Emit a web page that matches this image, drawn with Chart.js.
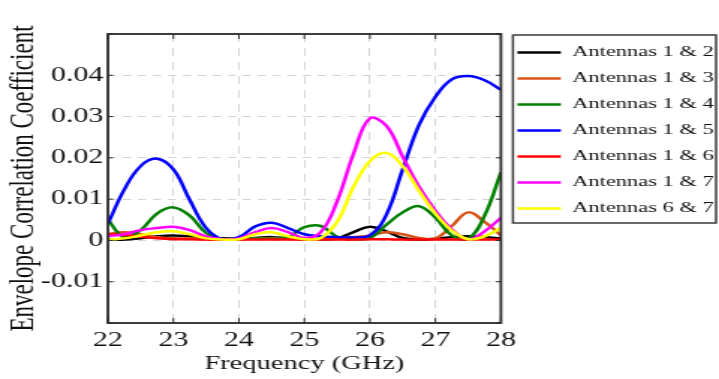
<!DOCTYPE html>
<html>
<head>
<meta charset="utf-8">
<title>Envelope Correlation Coefficient</title>
<script src="https://cdn.jsdelivr.net/npm/chart.js@4.4.1/dist/chart.umd.min.js"></script>
<style>
  html, body { margin: 0; padding: 0; background: #fff; overflow: hidden; }
  /* the original figure is stretched sideways, so the chart is drawn narrow and scaled */
  #wrap { position: relative; width: 480px; height: 379px; transform: scaleX(1.498); transform-origin: 0 0; }
</style>
</head>
<body>
<div id="wrap"><canvas id="eccChart"></canvas></div>
<script>
const freqGHz = [22, 22.25, 22.5, 22.75, 23, 23.25, 23.5, 23.75, 24, 24.25, 24.5, 24.75, 25,
  25.25, 25.5, 25.75, 26, 26.25, 26.5, 26.75, 27, 27.25, 27.5, 27.75, 28];

const xTickValues = [22, 23, 24, 25, 26, 27, 28];
const xTickLabels = ['22', '23', '24', '25', '26', '27', '28'];
const yTickValues = [-0.01, 0, 0.01, 0.02, 0.03, 0.04];
const yTickLabels = ['-0.01', '0', '0.01', '0.02', '0.03', '0.04'];

const seriesNames = ['Antennas 1 & 2', 'Antennas 1 & 3', 'Antennas 1 & 4', 'Antennas 1 & 5',
  'Antennas 1 & 6', 'Antennas 1 & 7', 'Antennas 6 & 7'];

const ant12 = [0.0003, 0.0002, 0.0005, 0.001, 0.0012, 0.001, 0.0008, 0.0005, 0.0004, 0.0006, 0.0008, 0.0005, 0.0003,
  0.0003, 0.0005, 0.002, 0.0033, 0.0022, 0.0006, 0.0002, 0.0004, 0.0008, 0.001, 0.0008, 0.0005];
const ant13 = [0.0015, 0.002, 0.0015, 0.0008, 0.0005, 0.0005, 0.0003, 0.0003, 0.0003, 0.0005, 0.0005, 0.0004, 0.0003,
  0.0004, 0.0005, 0.0008, 0.0012, 0.002, 0.0015, 0.0006, 0.0005, 0.0035, 0.0068, 0.0045, 0.0012];
const ant14 = [0.005, 0.0008, 0.0025, 0.0065, 0.008, 0.006, 0.0018, 0.0003, 0.0003, 0.0005, 0.0004, 0.0008, 0.0032,
  0.0035, 0.0009, 0.0003, 0.0006, 0.0038, 0.0068, 0.0083, 0.0055, 0.0012, 0.0004, 0.006, 0.0165];
const ant15 = [0.004, 0.0123, 0.018, 0.0198, 0.0172, 0.0098, 0.003, 0.0003, 0.0008, 0.0034, 0.0043, 0.003, 0.0015,
  0.001, 0.0008, 0.0007, 0.0012, 0.0062, 0.0172, 0.028, 0.0348, 0.039, 0.0398, 0.0388, 0.0365];
const ant16 = [0.0015, 0.0013, 0.0009, 0.0005, 0.0003, 0.0003, 0.0002, 0.0002, 0.0002, 0.0002, 0.0002, 0.0002, 0.0002,
  0.0002, 0.0002, 0.0002, 0.0003, 0.0003, 0.0002, 0.0002, 0.0002, 0.0002, 0.0002, 0.0002, 0.0002];
const ant17 = [0.001, 0.0015, 0.0025, 0.003, 0.0033, 0.0025, 0.001, 0.0003, 0.0005, 0.002, 0.003, 0.002, 0.0006,
  0.002, 0.0095, 0.021, 0.0296, 0.0278, 0.0203, 0.013, 0.0072, 0.0027, 0.0003, 0.0022, 0.0055];
const ant67 = [0.0002, 0.0005, 0.0012, 0.002, 0.0022, 0.0015, 0.0005, 0.0002, 0.0003, 0.0015, 0.002, 0.001, 0.0003,
  0.0006, 0.0045, 0.013, 0.0192, 0.0212, 0.018, 0.012, 0.0065, 0.0024, 0.0003, 0.001, 0.003];

const seriesValues = [ant12, ant13, ant14, ant15, ant16, ant17, ant67];
const seriesColors = ['#000000', '#D95319', '#008000', '#0000FF', '#FF0000', '#FF00FF', '#FFFF00'];

const serif = "'Liberation Serif', 'Times New Roman', serif";
const textColor = '#111111';

// box around the axes with inward ticks, and the frame round the legend
const axisFrame = {
  id: 'axisFrame',
  afterDraw(chart) {
    const { ctx, chartArea: a, scales: { x, y } } = chart;
    ctx.save();
    ctx.strokeStyle = '#2a2a2a';
    ctx.lineWidth = 1;
    ctx.beginPath();
    x.ticks.forEach((t) => {
      const px = x.getPixelForValue(t.value);
      ctx.moveTo(px, a.bottom); ctx.lineTo(px, a.bottom - 5);
      ctx.moveTo(px, a.top); ctx.lineTo(px, a.top + 5);
    });
    y.ticks.forEach((t) => {
      const py = y.getPixelForValue(t.value);
      ctx.moveTo(a.left, py); ctx.lineTo(a.left + 3.5, py);
      ctx.moveTo(a.right, py); ctx.lineTo(a.right - 3.5, py);
    });
    ctx.stroke();
    ctx.lineWidth = 1.8;
    ctx.strokeRect(a.left, a.top, a.right - a.left, a.bottom - a.top);

    const hb = chart.legend && chart.legend.legendHitBoxes;
    if (hb && hb.length) {
      const first = hb[0];
      const last = hb[hb.length - 1];
      const left = first.left - 3;
      const top = first.top - 10;
      ctx.strokeStyle = '#3a3a3a';
      ctx.lineWidth = 1.5;
      ctx.strokeRect(left, top, chart.width - 2 - left, last.top + last.height + 7 - top);
    }
    ctx.restore();
  },
};

const datasets = seriesValues.map((vals, i) => ({
  label: seriesNames[i],
  data: vals.map((v, j) => ({ x: freqGHz[j], y: v })),
  borderColor: seriesColors[i],
  backgroundColor: seriesColors[i],
  pointBorderColor: seriesColors[i],
  pointBackgroundColor: seriesColors[i],
  borderWidth: 2.5,
  pointBorderWidth: 2.5,
  pointRadius: 0,
  pointStyle: 'line',
  tension: 0.4,
  order: seriesValues.length - i,
}));

new Chart(document.getElementById('eccChart'), {
  type: 'line',
  data: { datasets },
  options: {
    responsive: true,
    maintainAspectRatio: false,
    animation: false,
    devicePixelRatio: 1,
    layout: { padding: { top: 34, right: 0, bottom: 0, left: 0 } },
    plugins: {
      tooltip: { enabled: false },
      legend: {
        position: 'right',
        align: 'start',
        reverse: true,
        maxWidth: 145.6,
        labels: {
          usePointStyle: true,
          pointStyleWidth: 29,
          padding: 11,
          color: textColor,
          font: { family: serif, size: 15 },
        },
      },
    },
    scales: {
      x: {
        type: 'linear',
        min: 22,
        max: 28,
        afterFit: (scale) => { scale.height = 56; },
        ticks: {
          stepSize: 1,
          padding: 6,
          color: textColor,
          font: { family: serif, size: 20 },
          callback: (value) => {
            const k = xTickValues.findIndex((v) => Math.abs(v - value) < 1e-9);
            return k >= 0 ? xTickLabels[k] : '';
          },
        },
        grid: { color: '#d4d4d4', lineWidth: 1, drawTicks: false },
        border: { display: false, dash: [8, 6] },
        title: {
          display: true,
          text: 'Frequency (GHz)',
          color: textColor,
          font: { family: serif, size: 19 },
          padding: { top: 0, bottom: 4 },
        },
      },
      y: {
        min: -0.02,
        max: 0.05,
        afterFit: (scale) => { scale.width = 72; },
        ticks: {
          stepSize: 0.01,
          padding: 3,
          color: textColor,
          font: { family: serif, size: 20 },
          callback: (value) => {
            const k = yTickValues.findIndex((v) => Math.abs(v - value) < 1e-9);
            return k >= 0 ? yTickLabels[k] : '';
          },
        },
        grid: { color: '#d4d4d4', lineWidth: 1, drawTicks: false },
        border: { display: false, dash: [5.5, 4.5] },
        title: {
          display: true,
          text: 'Envelope Correlation Coefficient',
          color: textColor,
          font: { family: serif, size: 23 },
          padding: { top: 2, bottom: 0 },
        },
      },
    },
  },
  plugins: [axisFrame],
});
</script>
</body>
</html>
